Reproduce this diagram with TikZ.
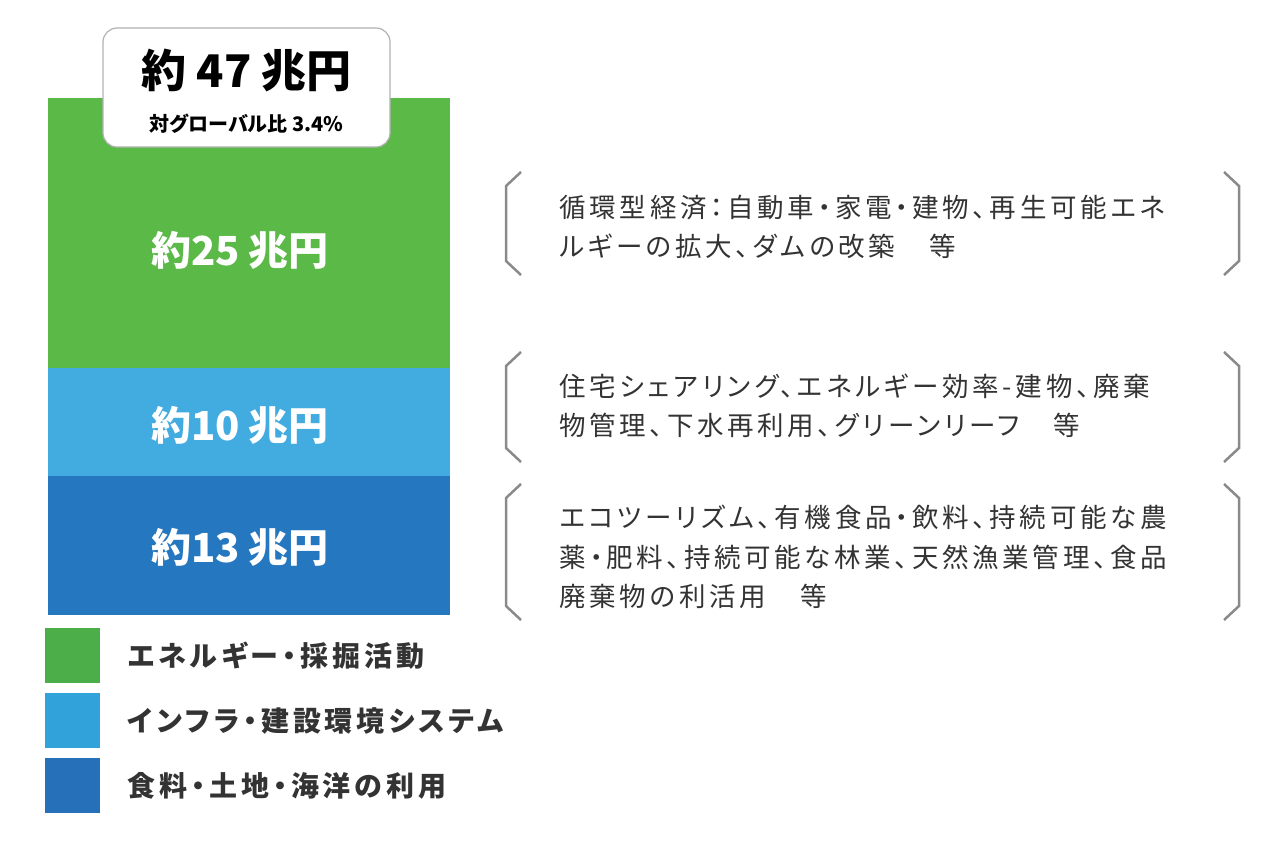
\documentclass[tikz,border=0pt]{standalone}
\usepackage{fontspec}
\setmainfont{Noto Sans CJK JP}[RawFeature=+palt]
\newfontfamily\spaced{Noto Sans CJK JP}[RawFeature=+palt,LetterSpace=14]
\definecolor{gA}{HTML}{5BB947}
\definecolor{bA}{HTML}{42ABE0}
\definecolor{dA}{HTML}{2577C0}
\definecolor{gL}{HTML}{4CAE48}
\definecolor{bL}{HTML}{31A2DA}
\definecolor{dL}{HTML}{2570B8}
\definecolor{tx}{HTML}{333333}
\definecolor{br}{HTML}{8A8A8A}
\begin{document}
\begin{tikzpicture}[x=1pt,y=-1pt,
  barlbl/.style={text=white,font=\fontsize{40}{42}\selectfont\bfseries},
  desc/.style={text=tx,anchor=west,align=left,font=\spaced\fontsize{26.5}{39.5}\selectfont},
  leg/.style={text=tx,anchor=west,font=\spaced\fontsize{28}{30}\selectfont\bfseries},
  brk/.style={draw=br,line width=2.5pt,line join=miter}]
\useasboundingbox (0,0) rectangle (1275,850);
\fill[gA] (48,98) rectangle (450,368);
\fill[bA] (48,368) rectangle (450,476);
\fill[dA] (48,476) rectangle (450,615);
\node[draw=black!30,line width=1.2pt,fill=white,rounded corners=14pt,minimum width=287pt,minimum height=119pt] (top) at (246.5,87.5) {};
\node[text=black,font=\fontsize{45}{48}\selectfont\bfseries] (t1) at (246.5,70) {約 47 兆円};
\node[text=black,font=\fontsize{20}{22}\selectfont\bfseries] (t2) at (246.5,124) {対グローバル比 3.4\%};
\node[barlbl] (l1) at (240,250) {約25 兆円};
\node[barlbl] (l2) at (240,425) {約10 兆円};
\node[barlbl] (l3) at (240,547) {約13 兆円};
\foreach \a/\b in {172/275,352/462,484/620}{
  \draw[brk] (521,\a) -- (506,\a+14) -- (506,\b-14) -- (521,\b);
  \draw[brk] (1224,\a) -- (1239,\a+14) -- (1239,\b-14) -- (1224,\b);
}
\node[desc] (d1) at (556,227) {循環型経済：自動車・家電・建物、再生可能エネ\\ルギーの拡大、ダムの改築　等};
\node[desc] (d2) at (556,406) {住宅シェアリング、エネルギー効率-建物、廃棄\\物管理、下水再利用、グリーンリーフ　等};
\node[desc] (d3) at (556,557) {エコツーリズム、有機食品・飲料、持続可能な農\\薬・肥料、持続可能な林業、天然漁業管理、食品\\廃棄物の利活用　等};
\fill[gL] (45,628) rectangle (100,683);
\fill[bL] (45,693) rectangle (100,748);
\fill[dL] (45,758) rectangle (100,813);
\node[leg] (g1) at (124,656) {エネルギー・採掘活動};
\node[leg] (g2) at (124,721) {インフラ・建設環境システム};
\node[leg] (g3) at (124,786) {食料・土地・海洋の利用};
\end{tikzpicture}
\end{document}
